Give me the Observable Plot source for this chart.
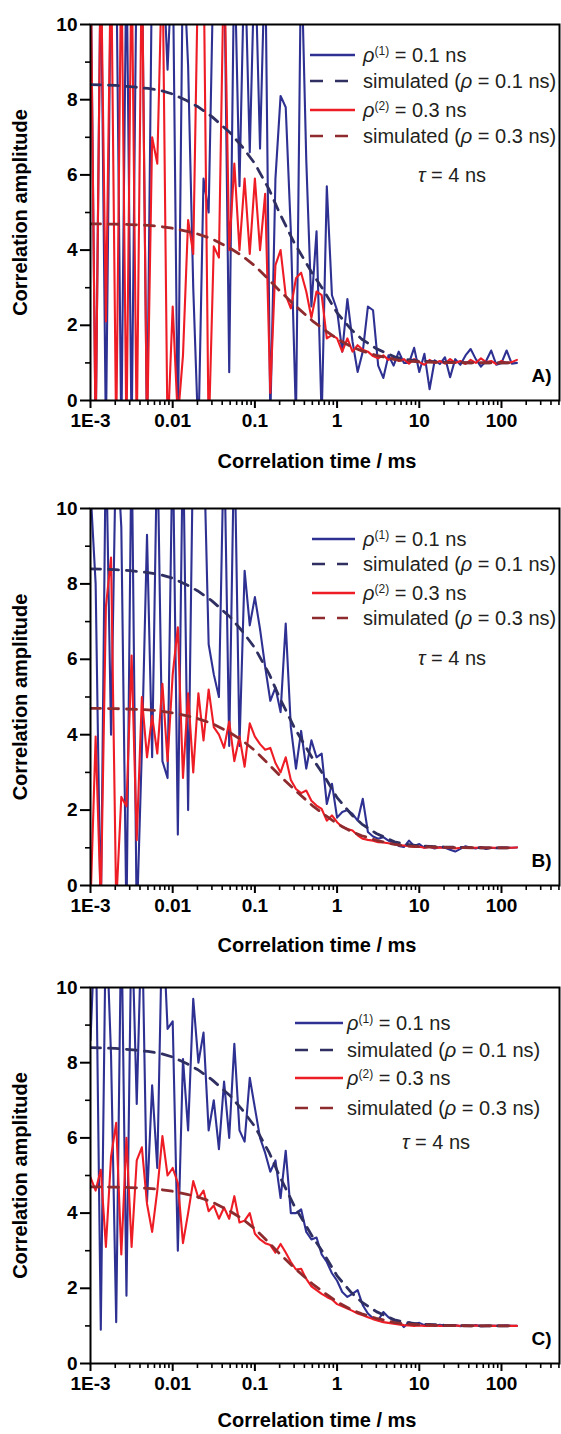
<!DOCTYPE html>
<html><head><meta charset="utf-8">
<script src="https://cdn.jsdelivr.net/npm/d3@7"></script>
<script src="https://cdn.jsdelivr.net/npm/@observablehq/plot@0.6"></script>
<style>
body{margin:0;background:#fff;font-family:"Liberation Sans",Arial,sans-serif;}
.panel{position:relative;width:561px;overflow:hidden;}
.panel svg{display:block;}
.row{position:absolute;white-space:nowrap;display:flex;align-items:center;height:24px;font-size:20px;color:#231f20;}
.row svg{flex:none;}
.row sup{font-size:12px;vertical-align:7px;line-height:0;}
.tau{position:absolute;white-space:nowrap;font-size:20px;color:#231f20;transform:translate(-50%,-50%);}
</style></head><body><div id="chart"></div>
<script>
// Correlation time (ms), shared by all measured series
const times = [0.001,0.001155,0.001334,0.00154,0.001778,0.002054,0.002371,0.002738,0.003162,0.003652,0.004217,0.00487,0.005623,0.006494,0.007499,0.00866,
0.01,0.01155,0.01334,0.0154,0.01778,0.02054,0.02371,0.02738,0.03162,0.03652,0.04217,0.0487,0.05623,0.06494,0.07499,0.0866,
0.1,0.1155,0.1334,0.154,0.1778,0.2054,0.2371,0.2738,0.3162,0.3652,0.4217,0.487,0.5623,0.6494,0.7499,0.866,
1,1.155,1.334,1.54,1.778,2.054,2.371,2.738,3.162,3.652,4.217,4.87,5.623,6.494,7.499,8.66,
10,11.55,13.34,15.4,17.78,20.54,23.71,27.38,31.62,36.52,42.17,48.7,56.23,64.94,74.99,86.6,
100,115.5,133.4,154];

// Panel A
const rho1A = [12,-1,12,-1,12,12,-1,12,-1,12, 12,-1,12,12,12,8.8,12,-1,12,8.9, 3,-1,5.9,5.0,12,12,12,0.75,12,5.7,
12,6.6,12,6.7,12,-0.5,5.9,8.1,7.8,4.5, -0.5,12,6.4,2.5,4.5,-0.5,5.7,2.8,2.4,1.3, 2.7,1.57,0.76,1.3,2.5,2.4,0.93,0.6,1.2,0.93,
1.3,1.0,1.0,1.4,0.76,1.24,0.3,1.07,0.97,1.15, 0.62,1.1,0.95,1.2,1.37,1.1,0.9,1.05,1.33,0.95, 1.0,1.33,0.98,1.0];
const rho2A = [12,-1,12,2.1,12,-1,12,-1,12,-1, 12,-1,7.0,6.3,12,-1,2.5,-0.5,1.2,4.8, 3.9,12,12,-1,4.1,3.8,12,4.0,6.3,4.0,
5.9,3.9,5.9,4.0,5.5,0.2,3.6,4.0,2.8,2.45, 3.25,3.4,2.9,2.2,2.9,2.8,1.65,1.74,1.65,1.3, 1.65,1.3,1.47,1.35,1.3,1.18,1.12,1.2,1.08,1.15,
1.05,1.1,0.98,1.1,1.02,0.95,1.08,1.0,1.05,0.98, 1.1,1.0,1.05,0.97,1.08,1.0,1.12,1.02,1.05,0.97, 1.05,1.0,1.02,1.08];

// Panel B
const rho1B = [10.5,8.0,-1,12,4.0,12,9.5,-1,12,-1, 3.6,9.3,3.4,12,3.3,2.85,12,1.35,12,2.0, 12,12,12,6.4,5.6,5.0,12,3.7,12,3.7,
8.35,6.9,7.65,6.8,5.8,4.9,5.25,4.6,6.95,4.2, 3.1,4.1,3.1,3.85,3.4,3.5,2.16,2.7,1.8,1.95, 2.0,1.9,1.72,2.3,1.42,1.3,1.24,1.28,1.19,1.15,
1.05,1.02,1.19,1.05,1.1,1.0,1.03,0.98,1.02,1.0, 0.95,0.9,0.97,1.04,1.0,0.98,1.02,0.97,1.0,0.99, 1.01,1.0,1.0,1.01];
const rho2B = [-0.5,3.95,-0.5,7.4,8.7,-0.5,2.35,2.1,6.1,1.2, 5.0,3.4,4.5,3.5,5.35,3.3,5.6,6.85,2.85,5.1, 3.0,5.1,3.85,5.2,4.2,4.0,3.65,4.35,3.3,3.95,
3.15,4.3,3.95,3.75,3.6,3.65,3.25,3.0,3.4,2.8, 2.56,2.45,2.52,2.25,2.12,2.03,1.72,1.86,1.68,1.55, 1.5,1.46,1.33,1.24,1.21,1.19,1.15,1.14,1.12,1.1,
1.07,1.06,1.04,1.02,1.03,1.0,1.02,1.0,1.01,1.0, 1.0,0.98,1.0,1.01,1.0,1.0,1.01,1.0,1.0,1.0, 1.0,1.0,1.0,1.01];

// Panel C
const rho1C = [8.6,12,0.9,12,8.2,1.1,12,1.8,12,6.9, 12,4.3,7.4,5.2,12,8.9,9.1,3.0,8.1,6.2, 9.7,8.0,8.8,6.2,7.0,5.7,7.5,6.0,8.5,6.2,
5.9,7.6,6.8,6.0,5.6,5.1,5.4,4.4,5.66,4.0, 4.0,4.1,3.5,3.3,3.35,2.9,2.7,2.4,2.2,1.9, 1.77,1.85,1.95,1.55,1.33,1.2,1.15,1.37,1.23,1.15,
1.12,0.97,1.1,1.05,1.08,1.02,1.04,1.0,1.03,1.01, 1.0,1.02,0.99,1.01,1.0,1.02,0.99,1.0,1.01,1.0, 1.0,1.01,1.0,1.0];
const rho2C = [4.95,4.6,5.15,3.1,5.5,6.4,2.9,6.0,3.1,5.4, 5.75,4.25,3.5,4.6,6.05,5.0,5.2,4.8,3.2,4.0, 4.85,4.4,4.6,4.05,4.2,3.85,4.15,3.85,4.45,3.75,
3.8,4.0,3.45,3.3,3.2,3.15,2.95,3.18,2.95,2.7, 2.5,2.52,2.25,2.05,1.95,1.85,1.77,1.7,1.58,1.52, 1.46,1.4,1.33,1.28,1.23,1.18,1.14,1.1,1.08,1.06,
1.04,1.02,1.01,1.0,1.01,1.0,1.0,1.01,1.0,1.0, 1.0,1.01,1.0,1.0,1.0,1.01,1.0,1.0,1.0,1.0, 1.0,1.0,1.0,1.0];

// Simulated curves (same in every panel)
const simTimes = [0.001,0.002,0.003,0.005,0.007,0.01,0.015,0.02,0.03,0.05,0.07,0.1,0.15,0.2,0.3,0.5,0.7,1,1.5,2,3,5,7,10,20,50,100,140];
const simRho1 = [8.40,8.38,8.35,8.30,8.25,8.15,7.97,7.82,7.55,7.12,6.75,6.30,5.60,4.98,4.20,3.38,2.90,2.33,1.88,1.63,1.38,1.16,1.09,1.05,1.02,1.0,1.0,1.0];
const simRho2 = [4.70,4.69,4.68,4.66,4.63,4.58,4.50,4.43,4.30,4.05,3.85,3.58,3.20,2.92,2.55,2.12,1.88,1.64,1.43,1.32,1.20,1.09,1.05,1.03,1.01,1.0,1.0,1.0];

// Axis ticks and text
const xTickValues = [0.001, 0.01, 0.1, 1, 10, 100];
const xTickLabels = ["1E-3", "0.01", "0.1", "1", "10", "100"];
const xDecades = [0.001, 0.01, 0.1, 1, 10, 100];
const xMinorMultipliers = [2,3,4,5,6,7,8,9];
const yTickValues = [0, 2, 4, 6, 8, 10];
const yMinorTicks = [1, 3, 5, 7, 9];
const xTitle = "Correlation time / ms";
const yTitle = "Correlation amplitude";
const panelLabels = ["A)", "B)", "C)"];
const legendTexts = [
  '<i>ρ</i><sup>(1)</sup> = 0.1 ns',
  'simulated (<i>ρ</i> = 0.1 ns)',
  '<i>ρ</i><sup>(2)</sup> = 0.3 ns',
  'simulated (<i>ρ</i> = 0.3 ns)'
];
const tauText = '<i>τ</i> = 4 ns';

const BLUE = "#2e3192", RED = "#ee1c25", BLUE_SIM = "#2f2f62", RED_SIM = "#8e2b2e";
const legendStyles = [
  {color: BLUE, dash: null},
  {color: BLUE_SIM, dash: "13,12"},
  {color: RED, dash: null},
  {color: RED_SIM, dash: "13,12"}
];

const xMinorTicks = xDecades.flatMap(d => xMinorMultipliers.map(m => d * m)).filter(v => v < 508);
const FONT = "Liberation Sans, Arial, sans-serif";

function toRows(ts, vs) { return ts.map((t, i) => ({t, v: vs[i]})); }

function makePanel(cfg) {
  const wrap = document.createElement("div");
  wrap.className = "panel";
  wrap.style.height = cfg.height + "px";
  const svg = Plot.plot({
    width: 561, height: cfg.height,
    marginLeft: 90, marginRight: 2, marginTop: cfg.mt, marginBottom: cfg.mb,
    x: {type: "log", domain: [0.001, 508], label: null},
    y: {domain: [0, 10], label: null},
    style: {fontFamily: FONT, background: "white", color: "black", overflow: "visible"},
    marks: [
      Plot.lineY(toRows(times, cfg.rho1), {x: "t", y: "v", stroke: BLUE, strokeWidth: 2.1, clip: true}),
      Plot.lineY(toRows(times, cfg.rho2), {x: "t", y: "v", stroke: RED, strokeWidth: 2.1, clip: true}),
      Plot.lineY(toRows(simTimes, simRho1), {x: "t", y: "v", stroke: BLUE_SIM, strokeWidth: 2.8, strokeDasharray: "10,8", clip: true}),
      Plot.lineY(toRows(simTimes, simRho2), {x: "t", y: "v", stroke: RED_SIM, strokeWidth: 2.8, strokeDasharray: "10,8", clip: true}),
      Plot.frame({stroke: "black", strokeWidth: 2}),
      Plot.axisX(xTickValues, {tickSize: 8, tickPadding: 5, strokeWidth: 2, label: null,
        tickFormat: d => xTickLabels[xTickValues.indexOf(d)], fontSize: 19, fontWeight: "bold"}),
      Plot.axisX(xMinorTicks, {tickSize: 5, strokeWidth: 1.6, label: null, tickFormat: () => ""}),
      Plot.axisY(yTickValues, {tickSize: 10, tickPadding: 3, strokeWidth: 2, label: null, fontSize: 19, fontWeight: "bold"}),
      Plot.axisY(yMinorTicks, {tickSize: 5, strokeWidth: 1.6, label: null, tickFormat: () => ""}),
      Plot.text([yTitle], {text: d => d, frameAnchor: "left", dx: -70, rotate: -90, textAnchor: "middle", lineAnchor: "middle", fontSize: 20, fontWeight: "bold"}),
      Plot.text([xTitle], {text: d => d, frameAnchor: "bottom", dx: -8, dy: cfg.xTitleDy, textAnchor: "middle", lineAnchor: "middle", fontSize: 20, fontWeight: "bold"}),
      Plot.text([cfg.label], {text: d => d, frameAnchor: "bottom-right", dx: -8, dy: -25, textAnchor: "end", lineAnchor: "middle", fontSize: 19, fontWeight: "bold"})
    ]
  });
  wrap.appendChild(svg);
  cfg.rows.forEach((cy, i) => {
    const st = legendStyles[i];
    const row = document.createElement("div");
    row.className = "row";
    row.style.top = (cy - 12) + "px";
    row.style.left = cfg.lineX0 + "px";
    const w = cfg.textX - cfg.lineX0;
    const len = st.dash ? cfg.lineLen - 7 : cfg.lineLen;
    row.innerHTML = `<svg width="${w}" height="24"><line x1="0" x2="${len}" y1="12" y2="12" stroke="${st.color}" stroke-width="2.5"${st.dash ? ` stroke-dasharray="${st.dash}"` : ""}/></svg><span>${legendTexts[i]}</span>`;
    wrap.appendChild(row);
  });
  const tau = document.createElement("div");
  tau.className = "tau";
  tau.style.left = cfg.tau[0] + "px";
  tau.style.top = cfg.tau[1] + "px";
  tau.innerHTML = tauText;
  wrap.appendChild(tau);
  return wrap;
}

const root = document.getElementById("chart");
root.appendChild(makePanel({label: panelLabels[0], rho1: rho1A, rho2: rho2A, height: 480, mt: 24, mb: 80, xTitleDy: 61,
  rows: [55, 81, 110, 136], lineX0: 310, lineLen: 45, textX: 363, tau: [452, 175]}));
root.appendChild(makePanel({label: panelLabels[1], rho1: rho1B, rho2: rho2B, height: 480, mt: 28, mb: 75, xTitleDy: 60,
  rows: [59, 84, 113, 138], lineX0: 312, lineLen: 43, textX: 363, tau: [452, 178]}));
root.appendChild(makePanel({label: panelLabels[2], rho1: rho1C, rho2: rho2C, height: 474, mt: 27, mb: 71, xTitleDy: 57,
  rows: [63, 90, 118, 148], lineX0: 295, lineLen: 48, textX: 347, tau: [436, 182]}));
</script></body></html>
